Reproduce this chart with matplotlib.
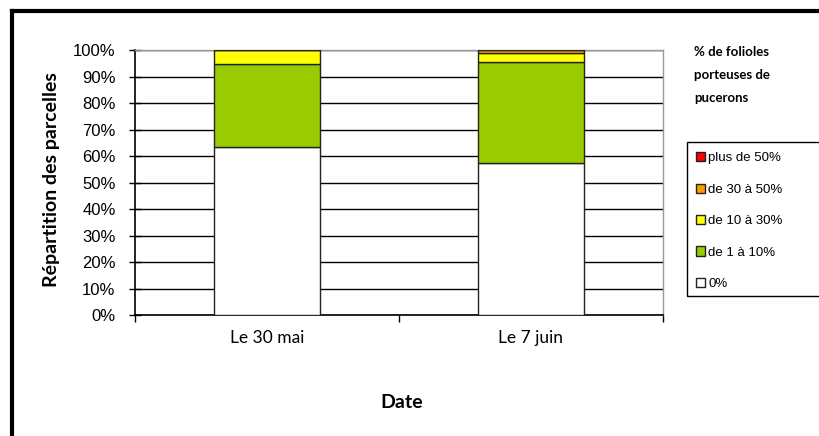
import matplotlib
matplotlib.use("Agg")
import matplotlib.pyplot as plt
from matplotlib.patches import Rectangle
from matplotlib.lines import Line2D
import numpy as np

categories = ["Le 30 mai", "Le 7 juin"]
series_names = ["0%", "de 1 à 10%", "de 10 à 30%", "de 30 à 50%", "plus de 50%"]
v_0 = [63.4, 57.4]
v_1_10 = [31.3, 38.1]
v_10_30 = [5.3, 3.4]
v_30_50 = [0.0, 1.1]
v_50 = [0.0, 0.0]
yticks = [0, 10, 20, 30, 40, 50, 60, 70, 80, 90, 100]
colors = ["#FFFFFF", "#99CC00", "#FFFF00", "#FF9900", "#FF0000"]

W, H = 819, 436
fig = plt.figure(figsize=(W / 100, H / 100), dpi=100)
ax = fig.add_axes([135 / W, (H - 315) / H, 528 / W, 265 / H])

x = np.arange(len(categories))
data = [v_0, v_1_10, v_10_30, v_30_50, v_50]
bottom = np.zeros(len(categories))
containers = []
for vals, name, c in zip(data, series_names, colors):
    bc = ax.bar(x, vals, width=0.4, bottom=bottom, color=c, edgecolor="#222222",
                linewidth=1.0, label=name, zorder=3)
    containers.append(bc)
    bottom += np.array(vals)

ax.set_xlim(-0.5, 1.5)
ax.set_ylim(0, 100)
ax.set_yticks(yticks)
ax.set_yticklabels([f"{t}%" for t in yticks], fontsize=12, family="Liberation Sans")
ax.yaxis.grid(True, color="black", linewidth=1.0, zorder=0)
ax.set_axisbelow(True)
ax.set_xticks([-0.5, 0.5, 1.5])
ax.set_xticklabels([])
ax.tick_params(axis="x", direction="out", length=5, width=1)
ax.tick_params(axis="y", direction="inout", length=8, width=1, pad=10)
for xi, lab in zip(x, categories):
    ax.text(xi, -8.8, lab, ha="center", va="center", fontsize=12.5, family="Lato",
            transform=ax.transData)
for s in ["left", "bottom"]:
    ax.spines[s].set_color("black")
    ax.spines[s].set_linewidth(1.2)
for s in ["top", "right"]:
    ax.spines[s].set_color("#999999")
    ax.spines[s].set_linewidth(1.0)

fig.text(52 / W, 1 - 180 / H, "Répartition des parcelles", rotation=90, ha="center",
         va="center", fontsize=14, fontweight="bold", family="Lato")
fig.text(402 / W, 1 - 402 / H, "Date", ha="center", va="center", fontsize=14,
         fontweight="bold", family="Lato")
fig.text(694 / W, 1 - 46 / H, "% de folioles\nporteuses de\npucerons", ha="left", va="top",
         fontsize=9.5, fontweight="bold", family="Lato", linespacing=2.12)

# legend box
fig.patches.append(Rectangle((687 / W, 1 - 296 / H), 140 / W, 154 / H, transform=fig.transFigure,
                             facecolor="white", edgecolor="black", linewidth=1.0))
handles = [containers[i] for i in range(4, -1, -1)]
labels = [series_names[i] for i in range(4, -1, -1)]
leg = fig.legend(handles, labels, loc="upper left", bbox_to_anchor=(687 / W, 1 - 143 / H),
                 frameon=False, handlelength=0.7, handleheight=0.7,
                 handletextpad=0.2, labelspacing=1.45, borderpad=0.2,
                 prop={"family": "Liberation Sans", "size": 9.5})

# outer border (left and top)
fig.lines.append(Line2D([12 / W, 12 / W], [0, 1 - 11 / H], transform=fig.transFigure,
                        color="black", linewidth=3))
fig.lines.append(Line2D([12 / W, 1], [1 - 11 / H, 1 - 11 / H], transform=fig.transFigure,
                        color="black", linewidth=3))

fig.savefig("out.png", dpi=100)
